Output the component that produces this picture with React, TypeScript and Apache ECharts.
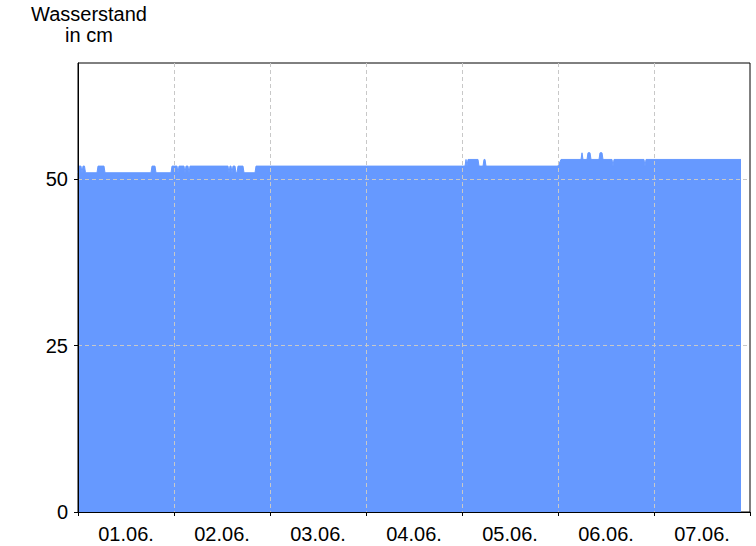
import React, { useEffect, useRef } from "react";
import * as echarts from "echarts";

const dayLabels = ["01.06.", "02.06.", "03.06.", "04.06.", "05.06.", "06.06.", "07.06."];
const yTicks = [0, 25, 50];

// hours since 01.06. 00:00 and water level in cm
const hours = [
  0, 0.25, 0.75, 1.0, 1.25, 1.625, 1.875, 4.75, 5.0, 6.5, 6.75, 18.25, 18.5, 19.25, 19.5,
  23.25, 23.5, 24.75, 25.0, 25.25, 26.5, 26.75, 27.0, 27.5, 27.75, 28.0,
  37.5, 37.75, 38.0, 38.25, 38.5, 38.75, 39.25, 39.5, 39.75, 40.0, 41.25, 41.5, 44.25, 44.5,
  96.75, 97.0, 97.25, 97.5, 100.0, 100.25, 101.25, 101.5, 101.75, 102.0,
  120.0, 120.75, 125.75, 126.0, 126.25, 127.25, 127.5, 128.0, 128.25,
  130.25, 130.5, 131.0, 131.25, 133.5, 133.75, 134.0, 141.5, 141.75, 142.0, 165.75,
];
const levels = [
  51, 52, 52, 51, 52, 52, 51, 51, 52, 52, 51, 51, 52, 52, 51,
  51, 52, 52, 51, 52, 52, 51, 52, 52, 51, 52,
  52, 51, 52, 52, 51, 52, 52, 51, 51, 52, 52, 51, 51, 52,
  52, 53, 52, 53, 53, 52, 52, 53, 53, 52,
  52, 53, 53, 54, 53, 53, 54, 54, 53,
  53, 54, 54, 53, 53, 52, 53, 53, 52, 53, 53,
];

export default function App() {
  const ref = useRef<HTMLDivElement>(null);
  useEffect(() => {
    if (!ref.current) return;
    const chart = echarts.init(ref.current, undefined, { renderer: "svg" });
    const font = "Liberation Sans, Arial, sans-serif";
    const grid = { color: "#c8c8c8", type: [4, 3] as number[], width: 1 };
    chart.setOption({
      animation: false,
      backgroundColor: "#ffffff",
      graphic: [
        {
          type: "text",
          x: 89,
          y: 3,
          z: 20,
          style: {
            text: "Wasserstand\nin cm",
            align: "center",
            verticalAlign: "top",
            fontFamily: font,
            fontSize: 20,
            lineHeight: 21,
            fill: "#000",
          },
        },
      ],
      grid: {
        left: 78,
        top: 63,
        right: 6,
        bottom: 34,
        show: true,
        borderColor: "#000",
        borderWidth: 1,
        backgroundColor: "#fff",
      },
      xAxis: [
        {
          type: "category",
          data: dayLabels,
          boundaryGap: true,
          z: 10,
          axisLine: { show: true, lineStyle: { color: "#000", width: 1 } },
          axisTick: { show: true, length: 4, inside: false, lineStyle: { color: "#000" } },
          axisLabel: { color: "#000", fontFamily: font, fontSize: 20, margin: 12 },
          splitLine: { show: true, showMinLine: false, showMaxLine: false, lineStyle: grid },
        },
        {
          type: "value",
          min: 0,
          max: 168,
          show: false,
          splitLine: { show: false },
        },
      ],
      yAxis: {
        type: "value",
        min: 0,
        max: 67.5,
        interval: 25,
        z: 10,
        axisLine: { show: true, lineStyle: { color: "#000", width: 1 } },
        axisTick: { show: true, length: 4, lineStyle: { color: "#000" } },
        axisLabel: {
          color: "#000",
          fontFamily: font,
          fontSize: 20,
          margin: 10,
          showMaxLabel: false,
          formatter: (v: number) => (yTicks.includes(v) ? String(v) : ""),
        },
        splitLine: { show: true, showMinLine: false, showMaxLine: false, lineStyle: grid },
      },
      series: [
        {
          type: "line",
          xAxisIndex: 1,
          data: hours.map((h, i) => [h, levels[i]]),
          showSymbol: false,
          symbol: "none",
          lineStyle: { color: "#6699ff", width: 1 },
          areaStyle: { color: "#6699ff", opacity: 1 },
          z: 2,
        },
      ],
    });
    return () => chart.dispose();
  }, []);
  return (
    <div
      ref={ref}
      style={{ position: "fixed", left: 0, top: 0, width: 756, height: 546, overflow: "hidden" }}
    />
  );
}
